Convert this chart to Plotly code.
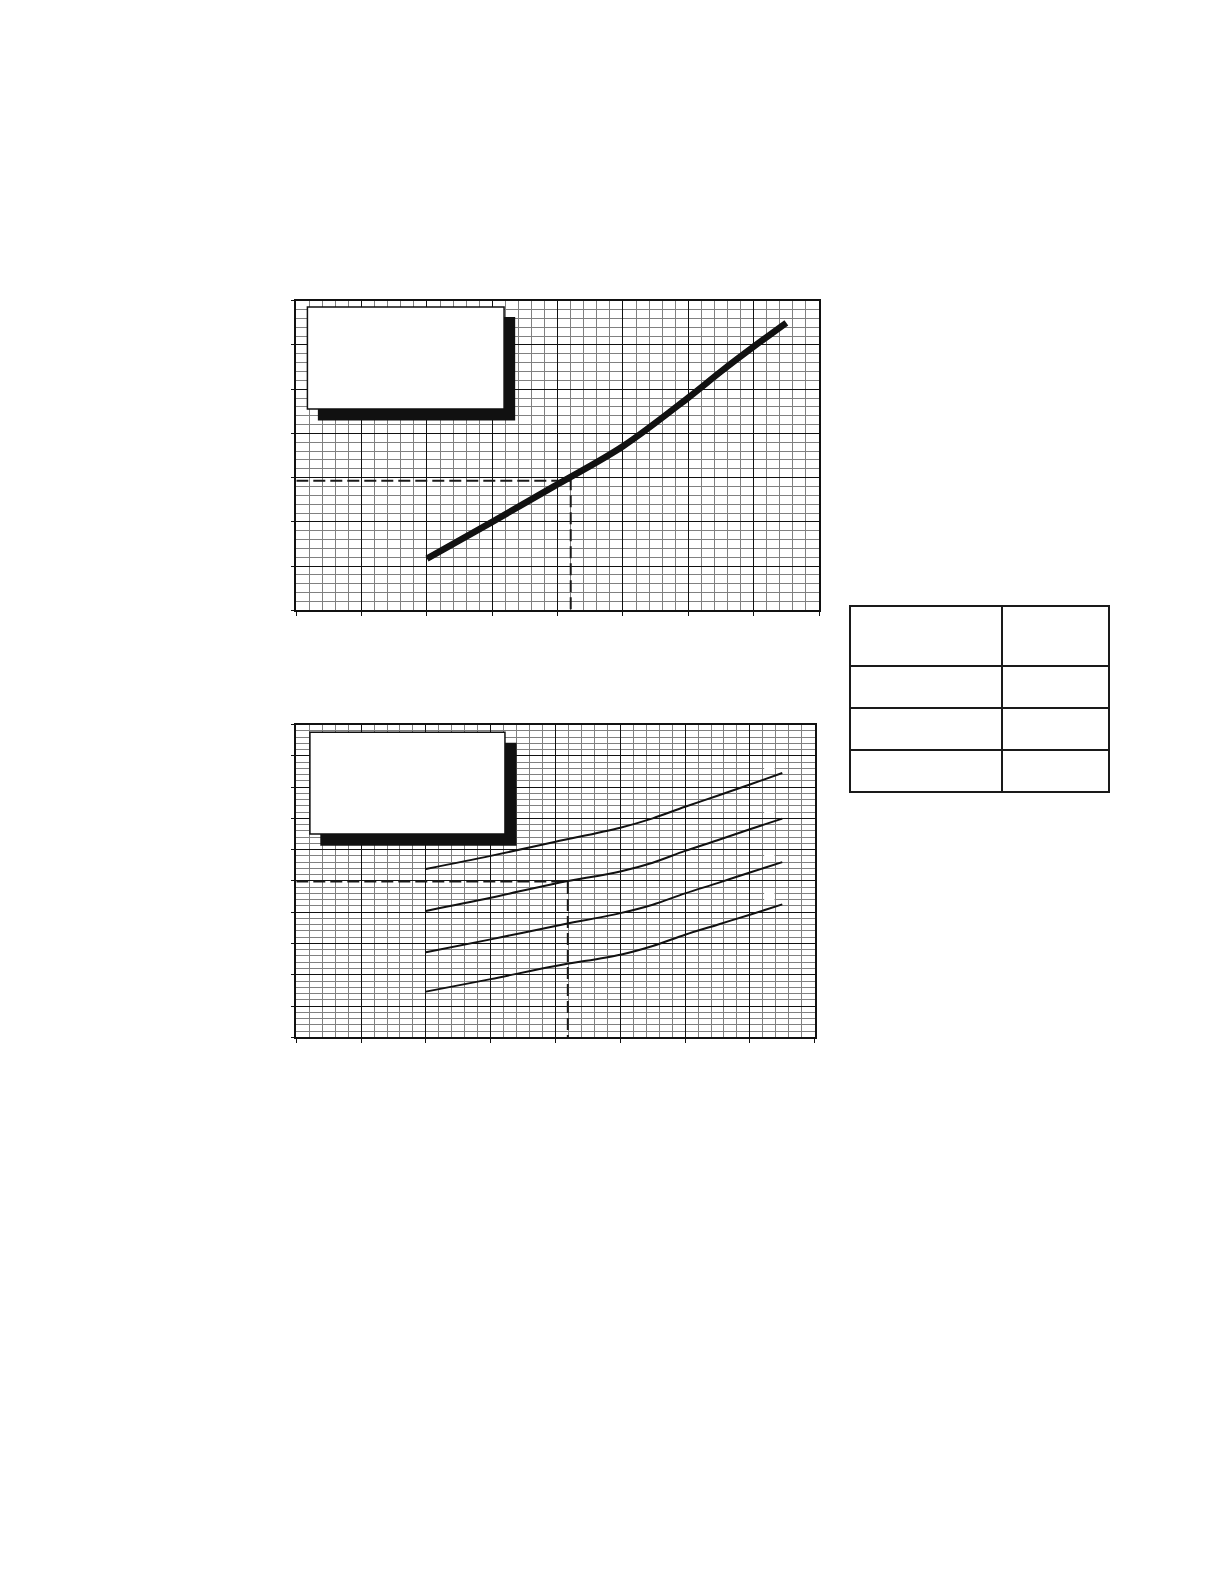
import plotly.graph_objects as go

# ---- data (in chart units) ----
# upper chart: single thick curve
top_x = [20, 30, 40, 50, 60, 65, 70, 75]
top_y = [11.7, 20.0, 28.5, 37.1, 48.1, 54.0, 59.6, 65.0]
top_ref_x = [0, 42.0, 42.0]          # dashed read-off path
top_ref_y = [29.3, 29.3, 0]

# lower chart: family of four curves
low_x = [20, 30, 40, 50, 55, 60, 65, 70, 75]
low_a = [53.8, 58.0, 62.5, 67.0, 70.0, 73.7, 77.2, 80.8, 84.5]
low_b = [40.4, 44.6, 49.2, 53.0, 55.8, 59.6, 63.0, 66.5, 69.9]
low_c = [27.2, 31.3, 35.6, 39.7, 42.4, 46.0, 49.3, 52.7, 56.0]
low_d = [14.6, 18.6, 22.8, 26.4, 29.2, 32.8, 36.0, 39.2, 42.5]
low_ref_x = [0, 41.9, 41.9]
low_ref_y = [49.8, 49.8, 0]

# blanked curve-label spots at the right end of the lower curves (y ranges)
label_gaps = [(84.4, 87.6), (71.0, 73.3), (56.3, 59.5), (42.3, 46.8)]

# table: header row + three rows, two columns, no text
table_header = ["", ""]
table_cells = [["", "", ""], ["", "", ""]]

# ---- styling ----
INK = "#111111"
MINOR = "#808080"
W, H = 1224, 1584

fig = go.Figure()


def grid_axis(rng, domain, anchor):
    return dict(
        range=rng, domain=domain, anchor=anchor, tick0=0, dtick=10,
        showgrid=True, gridcolor=INK, gridwidth=1.4,
        minor=dict(dtick=2, showgrid=True, gridcolor=MINOR, gridwidth=1, ticks=""),
        ticks="outside", ticklen=4, tickwidth=1.4, tickcolor=INK,
        showticklabels=False, showline=True, linecolor=INK, linewidth=1.6,
        mirror=True, zeroline=False, fixedrange=True,
    )


def px_x(p):
    return p / W


def px_y(p):
    return 1 - p / H


dash = dict(color="#1a1a1a", width=2, dash="12px,5px")

# upper chart
fig.add_trace(go.Scatter(x=top_ref_x, y=top_ref_y, mode="lines", line=dash,
                         xaxis="x", yaxis="y", hoverinfo="skip"))
fig.add_trace(go.Scatter(x=top_x, y=top_y, mode="lines",
                         line=dict(color=INK, width=6.5, shape="spline", smoothing=1),
                         xaxis="x", yaxis="y", hoverinfo="skip"))

# lower chart
fig.add_trace(go.Scatter(x=low_ref_x, y=low_ref_y, mode="lines", line=dash,
                         xaxis="x2", yaxis="y2", hoverinfo="skip"))
for ys in (low_a, low_b, low_c, low_d):
    fig.add_trace(go.Scatter(x=low_x, y=ys, mode="lines",
                             line=dict(color=INK, width=2, shape="spline", smoothing=1),
                             xaxis="x2", yaxis="y2", hoverinfo="skip"))

# empty table on the right
fig.add_trace(go.Table(
    domain=dict(x=[px_x(842), px_x(1101)], y=[px_y(790), px_y(598)]),
    columnwidth=[152, 107],
    header=dict(values=table_header, height=60, fill_color="white",
                line=dict(color="#1a1a1a", width=2.2)),
    cells=dict(values=table_cells, height=42, fill_color="white",
               line=dict(color="#1a1a1a", width=2.2)),
))

shapes = []
# legend boxes with drop shadow (blank text)
for xr, yr, box, shadow in (
    ("x", "y", (1.7, 31.8, 45.5, 68.6), (3.3, 33.5, 42.9, 66.3)),
    ("x2", "y2", (2.1, 32.2, 65.0, 97.5), (3.7, 34.0, 61.2, 94.2)),
):
    shapes.append(dict(type="rect", xref=xr, yref=yr, layer="above",
                       x0=shadow[0], x1=shadow[1], y0=shadow[2], y1=shadow[3],
                       fillcolor=INK, line=dict(width=0)))
    shapes.append(dict(type="rect", xref=xr, yref=yr, layer="above",
                       x0=box[0], x1=box[1], y0=box[2], y1=box[3],
                       fillcolor="white", line=dict(color=INK, width=1.5)))
for y0, y1 in label_gaps:
    shapes.append(dict(type="rect", xref="x2", yref="y2", layer="between",
                       x0=72.2, x1=73.8, y0=y0, y1=y1,
                       fillcolor="white", line=dict(width=0)))

fig.update_layout(
    width=W, height=H,
    margin=dict(l=0, r=0, t=0, b=0),
    paper_bgcolor="white", plot_bgcolor="white",
    showlegend=False,
    xaxis=grid_axis([0, 80], [px_x(288.3), px_x(811)], "y"),
    yaxis=grid_axis([0, 70], [px_y(602.3), px_y(292.7)], "x"),
    xaxis2=grid_axis([0, 80], [px_x(288.3), px_x(806.7)], "y2"),
    yaxis2=grid_axis([0, 100], [px_y(1029.3), px_y(716.5)], "x2"),
    shapes=shapes,
    font=dict(family="Liberation Sans, Arial, sans-serif", color=INK),
)

fig.write_html("out.html")
